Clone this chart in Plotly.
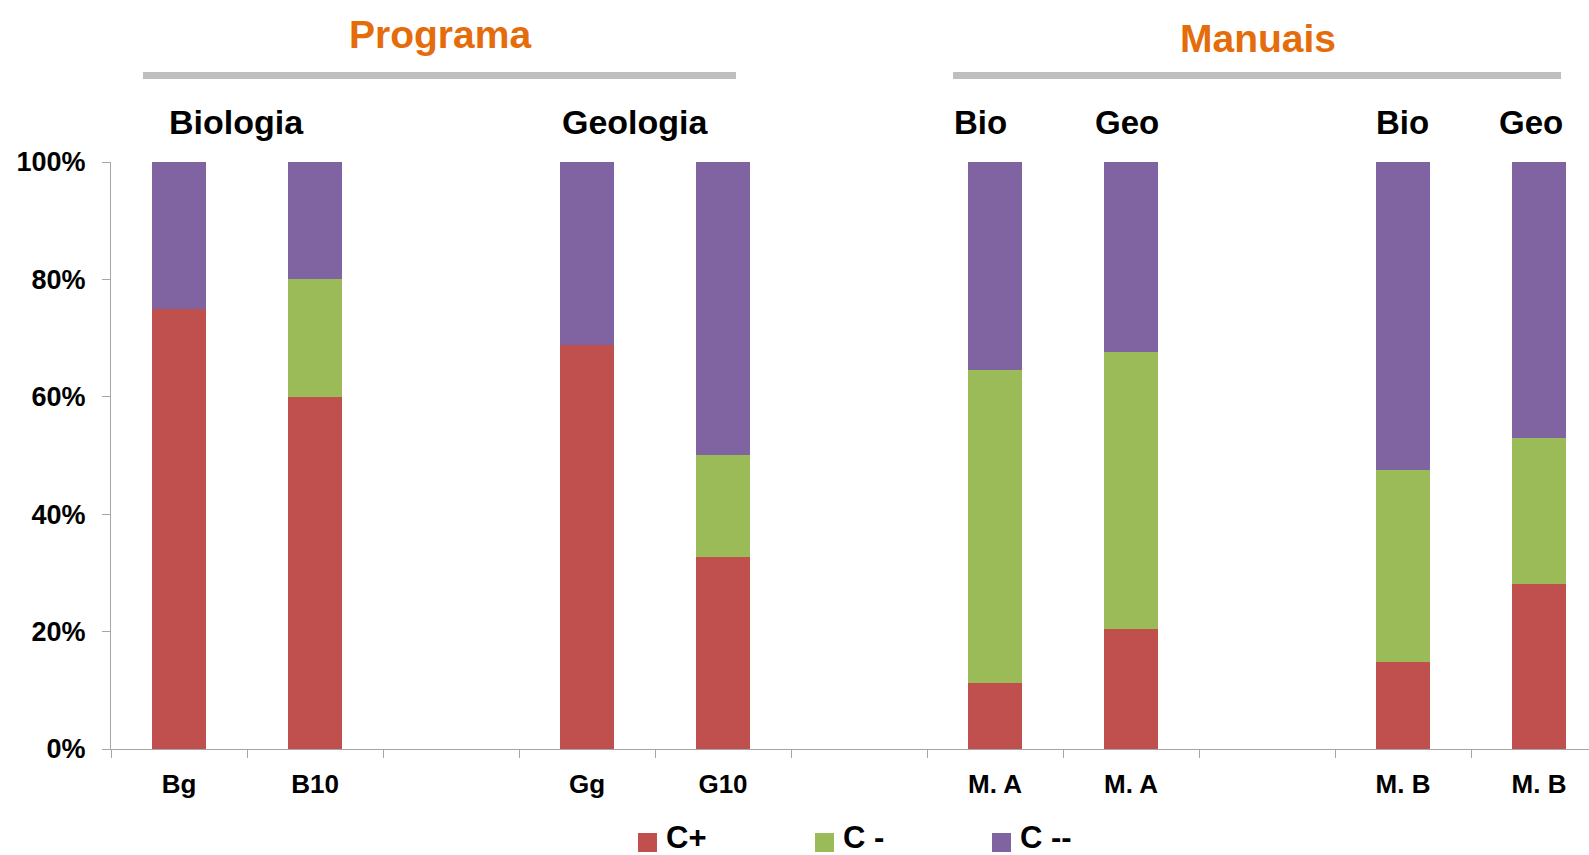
import plotly.graph_objects as go

# --- data -------------------------------------------------------------
categories = ["Bg", "B10", "Gg", "G10", "M. A", "M. A", "M. B", "M. B"]
slots = [0, 1, 3, 4, 6, 7, 9, 10]          # category slot on the axis (gaps between groups)

series_names = ["C+", "C -", "C --"]
c_plus = [75.0, 60.0, 68.8, 32.7, 11.2, 20.4, 14.8, 28.1]
c_minus = [0.0, 20.0, 0.0, 17.4, 53.4, 47.2, 32.8, 24.9]
c_minus2 = [25.0, 20.0, 31.2, 49.9, 35.4, 32.4, 52.4, 47.0]
series_values = [c_plus, c_minus, c_minus2]
colors = ["#C0504D", "#9BBB59", "#8064A2"]

y_ticks = [0, 20, 40, 60, 80, 100]
y_tick_labels = ["0%", "20%", "40%", "60%", "80%", "100%"]

group_titles = ["Programa", "Manuais"]
sub_titles = ["Biologia", "Geologia", "Bio", "Geo", "Bio", "Geo"]

# --- geometry helpers (page pixels -> paper coords) ---------------------
W, H = 1589, 855
L, R, T, B = 111, 0, 162, 106
PW, PH = W - L - R, H - T - B
SLOT = 136.0


def px_x(px):
    return (px - L) / PW


def px_y(py):
    return (H - B - py) / PH


FONT = "Liberation Sans, Arial, Helvetica, sans-serif"

fig = go.Figure()
for name, vals, col in zip(series_names, series_values, colors):
    fig.add_trace(go.Bar(
        x=slots, y=vals, name=name, width=0.4,
        marker=dict(color=col, line=dict(width=0)),
        showlegend=False,
    ))

x_max = -0.5 + PW / SLOT
boundaries = [i - 0.5 for i in range(0, 12)]

fig.update_layout(
    width=W, height=H,
    margin=dict(l=L, r=R, t=T, b=B, pad=0),
    barmode="stack",
    plot_bgcolor="white", paper_bgcolor="white",
    font=dict(family=FONT, color="black"),
    xaxis=dict(
        range=[-0.5, x_max],
        tickmode="array", tickvals=slots, ticktext=categories,
        ticks="", showgrid=False, zeroline=False,
        showline=True, linecolor="#A6A6A6", linewidth=1.3,
        tickfont=dict(family=FONT, size=26, color="black", weight="bold"),
        ticklabelstandoff=12,
        minor=dict(tickmode="array", tickvals=boundaries, ticks="outside",
                   ticklen=8, tickcolor="#A6A6A6", tickwidth=1.3, showgrid=False),
    ),
    yaxis=dict(
        range=[0, 100],
        tickmode="array", tickvals=y_ticks, ticktext=y_tick_labels,
        ticks="outside", ticklen=8, tickcolor="#A6A6A6", tickwidth=1.3,
        showgrid=False, zeroline=False,
        showline=True, linecolor="#A6A6A6", linewidth=1.3,
        tickfont=dict(family=FONT, size=27, color="black", weight="bold"),
        ticklabelstandoff=11,
    ),
)

annotations = []
shapes = []

# group titles with grey rules underneath
title_centers = [440, 1258]
title_cy = [34, 38]
rule_spans = [(143, 736), (953, 1561)]
for text, cx, cy, (x0, x1) in zip(group_titles, title_centers, title_cy, rule_spans):
    annotations.append(dict(
        x=px_x(cx), y=px_y(cy), xref="paper", yref="paper",
        text=f"<b>{text}</b>", showarrow=False, xanchor="center", yanchor="middle",
        font=dict(family=FONT, size=39, color="#E46C0A"),
    ))
    shapes.append(dict(
        type="line", xref="paper", yref="paper",
        x0=px_x(x0), x1=px_x(x1), y0=px_y(75.5), y1=px_y(75.5),
        line=dict(color="#BFBFBF", width=7),
    ))

# subject headers above the bars
sub_centers = [236, 635, 981, 1126.5, 1402.5, 1531]
sub_sizes = [34, 34, 33, 33, 33, 33]
for text, cx, sz in zip(sub_titles, sub_centers, sub_sizes):
    annotations.append(dict(
        x=px_x(cx), y=px_y(122.5), xref="paper", yref="paper",
        text=f"<b>{text}</b>", showarrow=False, xanchor="center", yanchor="middle",
        font=dict(family=FONT, size=sz, color="black"),
    ))

# legend row
leg_x = [638, 815, 992]
for name, col, lx in zip(series_names, colors, leg_x):
    shapes.append(dict(
        type="rect", xref="paper", yref="paper",
        x0=px_x(lx), x1=px_x(lx + 19), y0=px_y(852), y1=px_y(833),
        fillcolor=col, line=dict(width=0),
    ))
    annotations.append(dict(
        x=px_x(lx + 26), y=px_y(837), xref="paper", yref="paper",
        text=f"<b>{name}</b>", showarrow=False, xanchor="left", yanchor="middle",
        font=dict(family=FONT, size=31, color="black"),
    ))

fig.update_layout(annotations=annotations, shapes=shapes)

fig.write_html("out.html")
